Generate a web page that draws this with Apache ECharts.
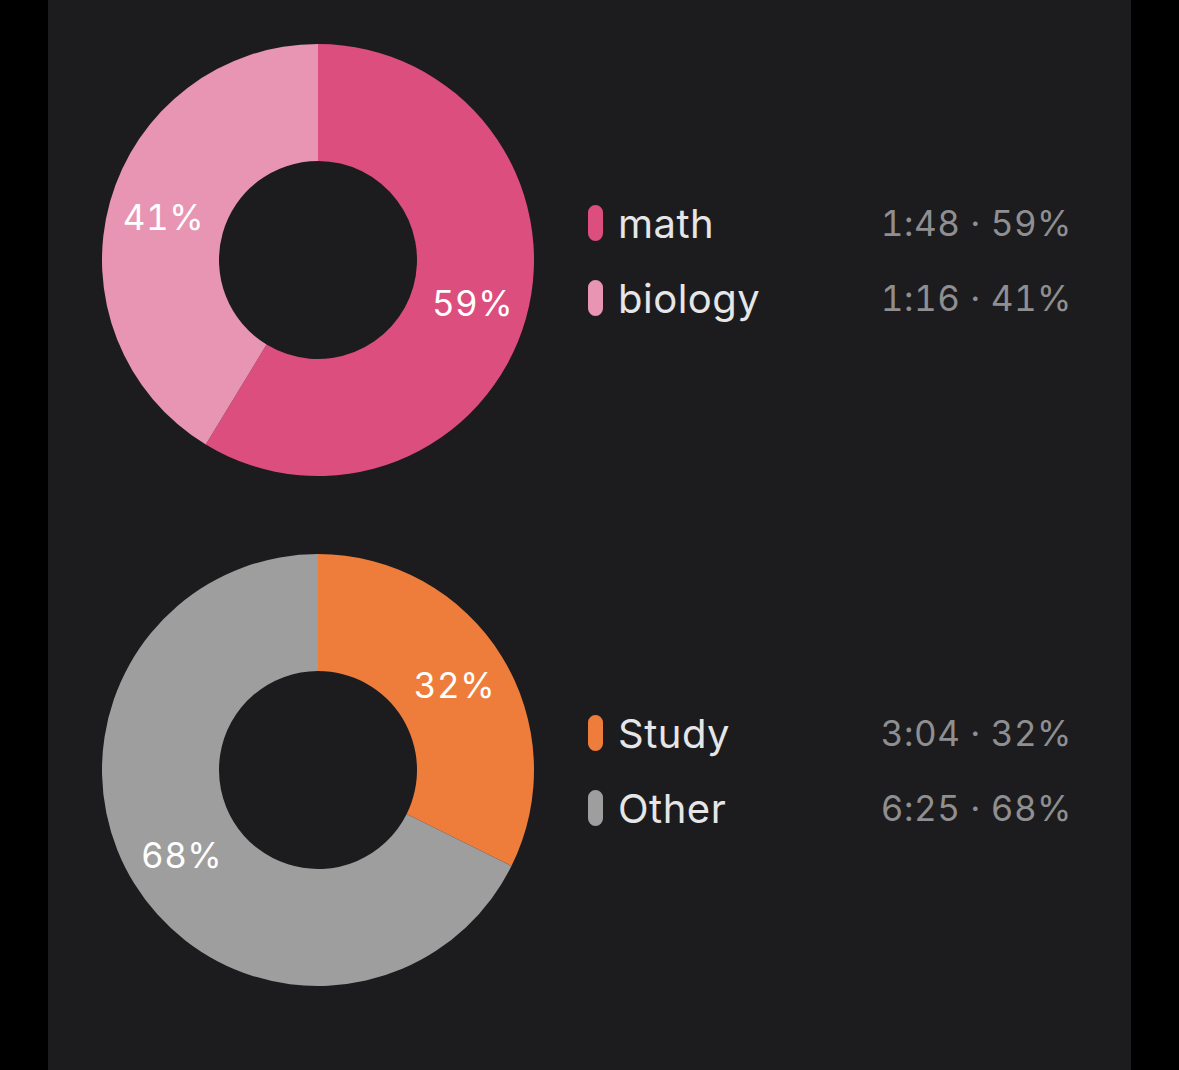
<!DOCTYPE html>
<html><head><meta charset="utf-8">
<style>
html,body{margin:0;padding:0;width:1179px;height:1070px;overflow:hidden;background:#000}
#panel{position:absolute;left:48px;top:0;width:1083px;height:1070px;background:#1c1c1e}
#c{position:absolute;left:0;top:0;width:1179px;height:1070px}
#c text{letter-spacing:.5px;font-variant-numeric:tabular-nums;font-feature-settings:"tnum" 1}
</style>
<script src="https://cdn.jsdelivr.net/npm/echarts@6/dist/echarts.min.js"></script>
</head><body><div id="panel"></div><div id="c"></div>
<script>
const subjectNames = ['math', 'biology'];
const subjectMinutes = [108, 76];
const subjectTimes = ['1:48', '1:16'];
const subjectPercents = [59, 41];
const subjectColors = ['#dc4e7d', '#e795b2'];

const shareNames = ['Study', 'Other'];
const shareMinutes = [184, 385];
const shareTimes = ['3:04', '6:25'];
const sharePercents = [32, 68];
const shareColors = ['#ee7d3b', '#9e9e9e'];

const font = 'Inter';
const pill = 'path://M7.5 0A7.5 7.5 0 0 1 15 7.5V28.5A7.5 7.5 0 0 1 0 28.5V7.5A7.5 7.5 0 0 1 7.5 0Z';

function pie(names, mins, pcts, colors, cy) {
  return {
    type: 'pie', center: [318, cy], radius: [99, 216], startAngle: 90, clockwise: true,
    silent: true, animation: false,
    label: {position: 'inside', color: '#fff', fontFamily: font, fontSize: 35, fontWeight: 400,
      padding: [4, 0, 0, 0],
      formatter: p => pcts[p.dataIndex] + '%'},
    labelLine: {show: false},
    data: names.map((n, i) => ({name: n, value: mins[i], itemStyle: {color: colors[i]}}))
  };
}
function legend(names, times, pcts, top) {
  return {
    left: 588, top, orient: 'vertical', itemWidth: 15, itemHeight: 36, itemGap: 35, icon: pill,
    selectedMode: false, data: names, padding: 0,
    formatter: n => {
      const i = names.indexOf(n);
      return `{n|${n}}{v|${times[i]} · ${pcts[i]}%}`;
    },
    textStyle: {
      rich: {
        n: {fontFamily: font, fontSize: 40, lineHeight: 36, color: '#e6e6e8', width: 225, padding: [0, 0, 0, 10], align: 'left'},
        v: {fontFamily: font, fontSize: 35, lineHeight: 36, color: '#8f8f91', width: 229, align: 'right'}
      }
    }
  };
}
const chart = echarts.init(document.getElementById('c'), null, {renderer: 'svg'});
chart.setOption({
  backgroundColor: 'transparent',
  animation: false,
  legend: [
    legend(subjectNames, subjectTimes, subjectPercents, 203),
    legend(shareNames, shareTimes, sharePercents, 713)
  ],
  series: [
    pie(subjectNames, subjectMinutes, subjectPercents, subjectColors, 260),
    pie(shareNames, shareMinutes, sharePercents, shareColors, 770)
  ]
});
</script></body></html>
